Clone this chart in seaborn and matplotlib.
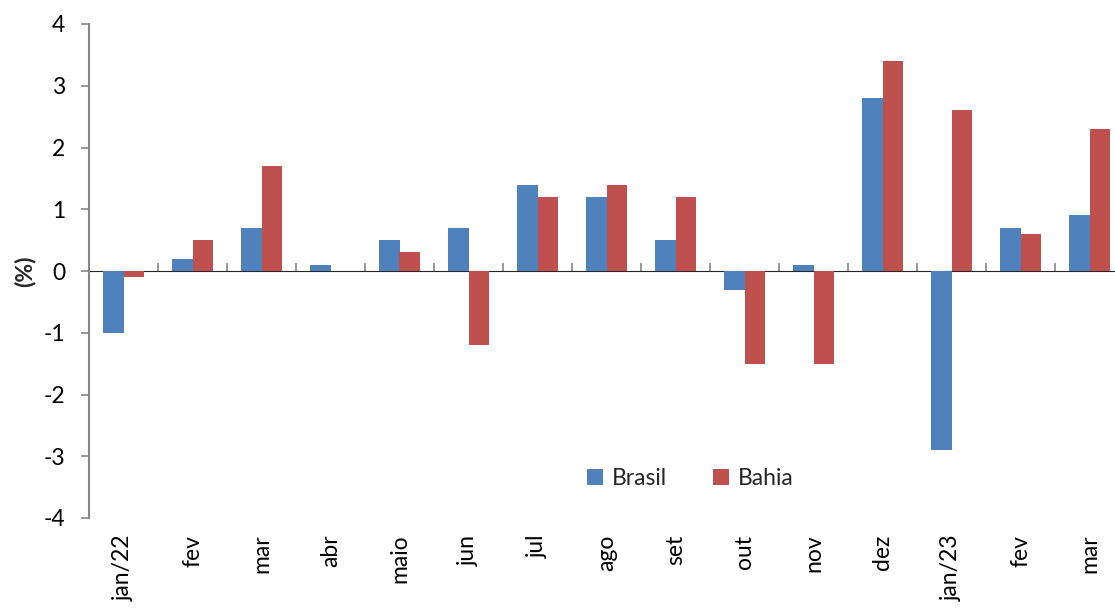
import matplotlib
matplotlib.use("Agg")
import matplotlib.pyplot as plt
import seaborn as sns
import pandas as pd

meses = ["jan/22", "fev", "mar", "abr", "maio", "jun", "jul", "ago", "set",
         "out", "nov", "dez", "jan/23", "fev", "mar"]
brasil = [-1.0, 0.2, 0.7, 0.1, 0.5, 0.7, 1.4, 1.2, 0.5, -0.3, 0.1, 2.8, -2.9, 0.7, 0.9]
bahia = [-0.1, 0.5, 1.7, 0.0, 0.3, -1.2, 1.2, 1.4, 1.2, -1.5, -1.5, 3.4, 2.6, 0.6, 2.3]
series = ["Brasil", "Bahia"]
cores = ["#4F81BD", "#C0504D"]

# meses repetem (fev, mar), então usa posição como chave da categoria
pos = [str(i) for i in range(len(meses))]
df = pd.DataFrame({
    "pos": pos * 2,
    "valor": brasil + bahia,
    "serie": [series[0]] * len(meses) + [series[1]] * len(meses),
})

sns.set_style("white")
plt.rcParams["font.family"] = ["Lato", "DejaVu Sans"]
cinza = "#868686"
fs = 16.5

fig = plt.figure(figsize=(11.15, 6.09), dpi=100)
ax = fig.add_axes([89 / 1115, 91 / 609, 1035 / 1115, 494 / 609])

sns.barplot(data=df, x="pos", y="valor", hue="serie", order=pos,
            hue_order=series, palette=cores, saturation=1, width=0.58,
            edgecolor="none", ax=ax)

ax.set_xlim(-0.5, len(meses) - 0.5)
ax.set_ylim(-4, 4)
ax.set_yticks(range(-4, 5))
ax.set_yticklabels([str(v) for v in range(-4, 5)])
ax.set_xticks(range(len(meses)))
ax.set_xticklabels(meses, rotation=90, va="top", ha="center")
ax.tick_params(axis="x", length=0, pad=12, labelsize=fs, colors="black")
ax.tick_params(axis="y", left=True, length=6, width=1.2, color=cinza,
               pad=11, labelsize=fs, labelcolor="black", direction="out")

for s in ["top", "right", "bottom"]:
    ax.spines[s].set_visible(False)
ax.spines["left"].set_color(cinza)
ax.spines["left"].set_linewidth(1.5)

# linha do zero com marcas entre os grupos
zero = ax.secondary_xaxis(0.5)
zero.set_xticks([i + 0.5 for i in range(len(meses) - 1)])
zero.set_xticklabels([])
zero.tick_params(length=6, width=1.2, color=cinza, direction="out")
zero.spines["bottom"].set_color(cinza)
zero.spines["bottom"].set_linewidth(1.5)

ax.set_xlabel("")
ax.set_ylabel("(%)", fontsize=fs, fontweight="bold")
ax.yaxis.set_label_coords(-0.052, 0.5)

ax.legend(loc="center", bbox_to_anchor=(0.619, 0.215),
          bbox_transform=fig.transFigure, ncol=2, frameon=False,
          fontsize=fs, handlelength=0.7, handleheight=0.7,
          columnspacing=2.0, handletextpad=0.4)

fig.savefig("out.png", dpi=100)
